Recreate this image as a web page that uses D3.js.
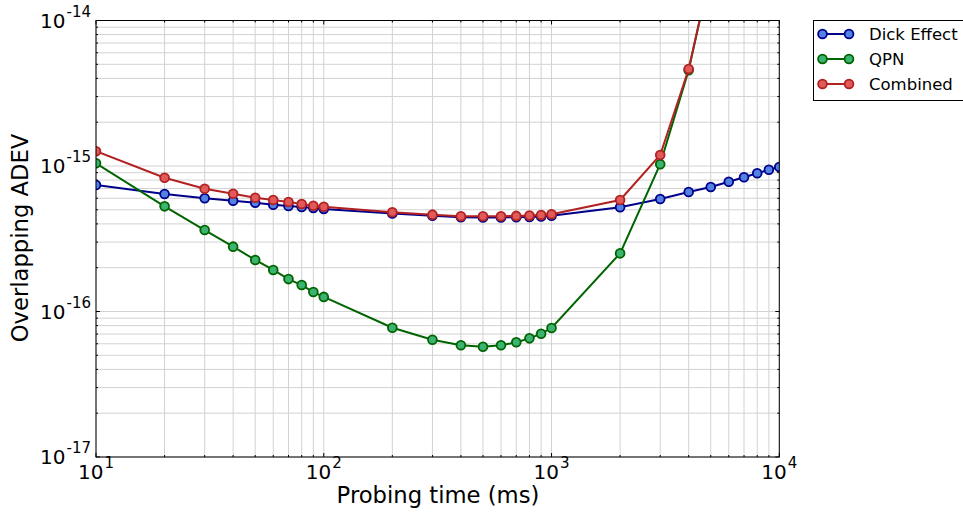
<!DOCTYPE html>
<html>
<head>
<meta charset="utf-8">
<script src="https://cdn.jsdelivr.net/npm/d3@7"></script>
<style>
  html, body { margin: 0; padding: 0; background: #fff; }
  svg { display: block; }
  text { font-family: "DejaVu Sans", sans-serif; fill: #000; }
</style>
</head>
<body>
<svg id="chart" width="963" height="512"></svg>
<script>
// ---------- data ----------
const tau = [10, 20, 30, 40, 50, 60, 70, 80, 90, 100,
             200, 300, 400, 500, 600, 700, 800, 900, 1000,
             2000, 3000, 4000, 5000, 6000, 7000, 8000, 9000, 10000];

const dickEffect = [7.40e-16, 6.42e-16, 6.00e-16, 5.77e-16, 5.59e-16, 5.42e-16, 5.31e-16, 5.23e-16, 5.14e-16, 5.06e-16,
                    4.72e-16, 4.55e-16, 4.45e-16, 4.43e-16, 4.43e-16, 4.45e-16, 4.47e-16, 4.50e-16, 4.55e-16,
                    5.20e-16, 5.93e-16, 6.63e-16, 7.17e-16, 7.80e-16, 8.36e-16, 8.91e-16, 9.43e-16, 9.84e-16];

const qpn = [1.044e-15, 5.28e-16, 3.63e-16, 2.79e-16, 2.26e-16, 1.93e-16, 1.67e-16, 1.52e-16, 1.36e-16, 1.26e-16,
             7.74e-17, 6.40e-17, 5.86e-17, 5.73e-17, 5.86e-17, 6.14e-17, 6.54e-17, 7.04e-17, 7.70e-17,
             2.51e-16, 1.03e-15, 4.55e-15, 2.2e-14, 7.5e-14, 2.2e-13, 5.8e-13, 1.4e-12, 3.1e-12];

const combined = [1.264e-15, 8.31e-16, 6.98e-16, 6.45e-16, 6.05e-16, 5.84e-16, 5.66e-16, 5.48e-16, 5.33e-16, 5.25e-16,
                  4.81e-16, 4.63e-16, 4.51e-16, 4.51e-16, 4.51e-16, 4.54e-16, 4.56e-16, 4.61e-16, 4.66e-16,
                  5.84e-16, 1.19e-15, 4.64e-15, 2.2e-14, 7.5e-14, 2.2e-13, 5.8e-13, 1.4e-12, 3.1e-12];

const seriesNames = ["Dick Effect", "QPN", "Combined"];
const xTickExps = [1, 2, 3, 4];
const yTickExps = [-17, -16, -15, -14];
const xLabel = "Probing time (ms)";
const yLabel = "Overlapping ADEV";

// ---------- styles ----------
const styles = [
  { line: "#00008b", fill: "#5282e2" },
  { line: "#006400", fill: "#3cb371" },
  { line: "#b22222", fill: "#e05a5a" }
];
const seriesValues = [dickEffect, qpn, combined];

// ---------- layout ----------
const L = 96, R = 779.3, T = 20.5, B = 457;
const svg = d3.select("#chart");

const x = d3.scaleLog().domain([10, 1e4]).range([L, R]);
const y = d3.scaleLog().domain([1e-17, 1e-14]).range([B, T]);

const xMajor = xTickExps.map(e => Math.pow(10, e));
const yMajor = yTickExps.map(e => Math.pow(10, e));
const xMinor = [], yMinor = [];
for (let i = 0; i < xMajor.length - 1; i++) for (let k = 2; k <= 9; k++) xMinor.push(k * xMajor[i]);
for (let i = 0; i < yMajor.length - 1; i++) for (let k = 2; k <= 9; k++) yMinor.push(+(k * yMajor[i]).toPrecision(3));

svg.append("defs").append("clipPath").attr("id", "clip")
  .append("rect").attr("x", L).attr("y", T).attr("width", R - L).attr("height", B - T);

// grid
const grid = svg.append("g").attr("stroke", "#d2d2d2").attr("stroke-width", 1);
xMinor.concat(xMajor).forEach(v => {
  grid.append("line").attr("x1", x(v)).attr("x2", x(v)).attr("y1", T).attr("y2", B);
});
yMinor.concat(yMajor).forEach(v => {
  grid.append("line").attr("x1", L).attr("x2", R).attr("y1", y(v)).attr("y2", y(v));
});

// ticks on all sides (inward)
const tk = svg.append("g").attr("stroke", "#000").attr("stroke-width", 1);
function xt(v, len) {
  tk.append("line").attr("x1", x(v)).attr("x2", x(v)).attr("y1", B).attr("y2", B - len);
  tk.append("line").attr("x1", x(v)).attr("x2", x(v)).attr("y1", T).attr("y2", T + len);
}
function yt(v, len) {
  tk.append("line").attr("x1", L).attr("x2", L + len).attr("y1", y(v)).attr("y2", y(v));
  tk.append("line").attr("x1", R).attr("x2", R - len).attr("y1", y(v)).attr("y2", y(v));
}
xMinor.forEach(v => xt(v, 2)); xMajor.forEach(v => xt(v, 4));
yMinor.forEach(v => yt(v, 2)); yMajor.forEach(v => yt(v, 4));

// series
const line = d3.line().x(d => x(d[0])).y(d => y(d[1]));
const plot = svg.append("g").attr("clip-path", "url(#clip)");
seriesValues.forEach((vals, si) => {
  const pts = tau.map((t, i) => [t, vals[i]]);
  plot.append("path").datum(pts)
    .attr("d", line)
    .attr("fill", "none")
    .attr("stroke", styles[si].line)
    .attr("stroke-width", 2);
  plot.selectAll(null).data(pts).enter().append("circle")
    .attr("cx", d => x(d[0])).attr("cy", d => y(d[1]))
    .attr("r", 4.4)
    .attr("fill", styles[si].fill)
    .attr("stroke", styles[si].line)
    .attr("stroke-width", 1.8);
});

// frame
svg.append("rect").attr("x", L).attr("y", T).attr("width", R - L).attr("height", B - T)
  .attr("fill", "none").attr("stroke", "#000").attr("stroke-width", 1);

// tick labels
xTickExps.forEach(e => {
  const t = svg.append("text").attr("x", x(Math.pow(10, e))).attr("y", 479)
    .attr("text-anchor", "middle").style("font-size", "20px");
  t.append("tspan").text("10");
  t.append("tspan").attr("dy", -11).attr("dx", 1).style("font-size", "15px").text(String(e));
});
yTickExps.forEach(e => {
  const t = svg.append("text").attr("x", 91).attr("y", y(Math.pow(10, e)) + 7.3)
    .attr("text-anchor", "end").style("font-size", "20px");
  t.append("tspan").text("10");
  t.append("tspan").attr("dy", -11).attr("dx", 1).style("font-size", "15px").text(String(e));
});

// axis labels
svg.append("text").attr("x", 438).attr("y", 503)
  .attr("text-anchor", "middle").style("font-size", "22.7px").text(xLabel);
svg.append("text").attr("transform", "translate(28,238) rotate(-90)")
  .attr("text-anchor", "middle").style("font-size", "22.7px").text(yLabel);

// legend
const lg = svg.append("g");
lg.append("rect").attr("x", 813.5).attr("y", 20.5).attr("width", 170).attr("height", 80)
  .attr("fill", "#fff").attr("stroke", "#000").attr("stroke-width", 1);
seriesNames.forEach((name, i) => {
  const cy = 34 + i * 25;
  lg.append("line").attr("x1", 822.5).attr("x2", 849).attr("y1", cy).attr("y2", cy)
    .attr("stroke", styles[i].line).attr("stroke-width", 2);
  [822.5, 849].forEach(cx => {
    lg.append("circle").attr("cx", cx).attr("cy", cy).attr("r", 4.4)
      .attr("fill", styles[i].fill).attr("stroke", styles[i].line).attr("stroke-width", 1.8);
  });
  lg.append("text").attr("x", 869).attr("y", cy + 6).style("font-size", "16.5px").text(name);
});
</script>
</body>
</html>
